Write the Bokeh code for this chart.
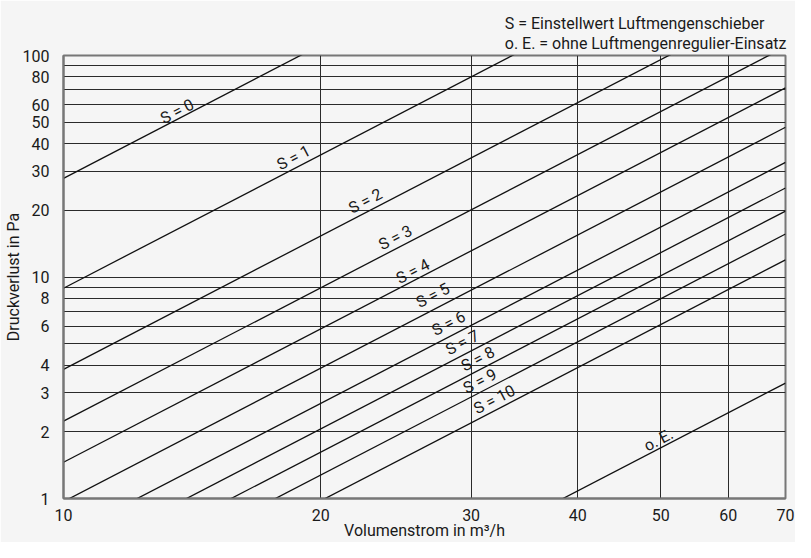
import numpy as np
from bokeh.plotting import figure
from bokeh.models import FixedTicker, Title, ColumnDataSource, PrintfTickFormatter
from bokeh.core.properties import value
from bokeh.embed import file_html
from bokeh.resources import INLINE

# ---- data ----
series_names = ["S = 0", "S = 1", "S = 2", "S = 3", "S = 4", "S = 5",
                "S = 6", "S = 7", "S = 8", "S = 9", "S = 10", "o. E."]
# pressure loss (Pa) of each curve at 10 m3/h (curves follow dp ~ V^2)
dp_at_10 = [27.9, 8.9, 3.83, 2.234, 1.458, 0.968, 0.672, 0.515, 0.405, 0.319, 0.244, 0.0677]
flow_ends = [10, 70]

# label anchor points (m3/h, Pa)
label_flow = [13.58, 18.59, 22.56, 24.46, 25.64, 27.06, 28.24, 29.29, 30.55, 30.71, 31.94, 49.7]
label_dp = [55.97, 34.6, 22.05, 15.08, 10.62, 8.27, 6.18, 5.06, 4.27, 3.39, 2.80, 1.84]

x_ticks = [10, 20, 30, 40, 50, 60, 70]
x_grid = [20, 30, 40, 50, 60]
y_ticks = [1, 2, 3, 4, 6, 8, 10, 20, 30, 40, 50, 60, 80, 100]
y_grid = [2, 3, 4, 5, 6, 7, 8, 9, 10, 20, 30, 40, 50, 60, 70, 80, 90]

title_lines = ["S = Einstellwert Luftmengenschieber",
               "o. E. = ohne Luftmengenregulier-Einsatz"]
x_label = "Volumenstrom in m³/h"
y_label = "Druckverlust in Pa"

FONT = "Roboto"
BG = "#f5f5f5"
INK = "#1a1a1a"

xs = [list(flow_ends) for _ in dp_at_10]
ys = [[k * (v / 10.0) ** 2 for v in flow_ends] for k in dp_at_10]
src = ColumnDataSource(dict(xs=xs, ys=ys))
lab = ColumnDataSource(dict(x=label_flow, y=label_dp, t=series_names))

p = figure(width=795, height=542, x_axis_type="log", y_axis_type="log",
           x_range=(10, 70), y_range=(1, 100),
           output_backend="svg", toolbar_location=None,
           min_border_left=56, min_border_right=10, min_border_top=55, min_border_bottom=40,
           background_fill_color=BG, border_fill_color=BG)

p.outline_line_color = "#777777"
p.outline_line_width = 2

for ax in (p.xaxis[0], p.yaxis[0]):
    ax.axis_line_color = "#777777"
    ax.axis_line_width = 2
    ax.major_tick_line_color = None
    ax.minor_tick_line_color = None
    ax.major_label_text_font = FONT
    ax.major_label_text_font_size = "16px"
    ax.major_label_text_color = INK
    ax.axis_label_text_font = FONT
    ax.axis_label_text_font_size = "16px"
    ax.axis_label_text_font_style = "normal"
    ax.axis_label_text_color = INK
    ax.formatter = PrintfTickFormatter(format="%d")

p.xaxis.ticker = FixedTicker(ticks=x_ticks)
p.yaxis.ticker = FixedTicker(ticks=y_ticks)
p.xaxis.major_label_standoff = 4
p.yaxis.major_label_standoff = 8
p.xaxis.axis_label = x_label
p.yaxis.axis_label = y_label
p.xaxis.axis_label_standoff = -3
p.yaxis.axis_label_standoff = -3

p.xgrid.ticker = FixedTicker(ticks=x_grid)
p.ygrid.ticker = FixedTicker(ticks=y_grid)
for g in (p.xgrid[0], p.ygrid[0]):
    g.grid_line_color = "#2a2a2a"
    g.grid_line_width = 1
    g.grid_line_alpha = 1.0

p.multi_line(xs="xs", ys="ys", source=src, line_color="#111111", line_width=1.3)

p.text(x="x", y="y", text="t", source=lab, angle=0.48,
       text_align="center", text_baseline="middle",
       text_font=value(FONT), text_font_size="16px", text_color=INK)

p.add_layout(Title(text="\n".join(title_lines), align="right", offset=-1, standoff=4,
                   text_font=FONT, text_font_size="16px", text_font_style="normal",
                   text_color=INK, text_line_height=1.1), "above")

open("out.html", "w").write(file_html(p, INLINE))
